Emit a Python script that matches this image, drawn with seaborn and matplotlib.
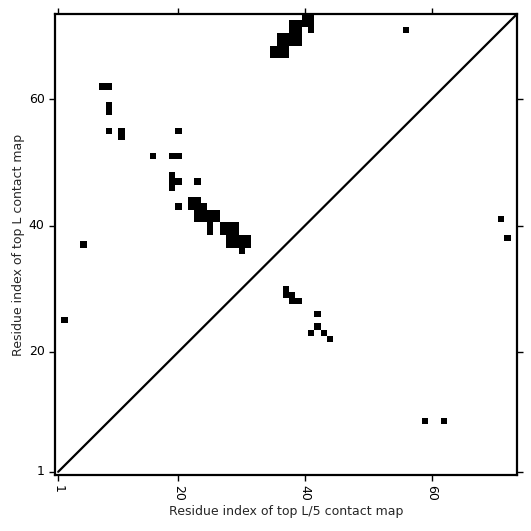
import numpy as np
import matplotlib
matplotlib.use("Agg")
import matplotlib.pyplot as plt
from matplotlib.colors import ListedColormap
import seaborn as sns

n_residues = 73
tick_residues = [1, 20, 40, 60]
tick_labels = ["1", "20", "40", "60"]

# contacts above the diagonal (top L contact map)
upper_x = [8, 9, 9, 9, 9, 11, 11, 20, 16, 19, 20, 19, 19, 19, 20, 23, 20, 5, 2,
           22, 23, 22, 23, 24,
           23, 24, 25, 26, 23, 24, 25, 26,
           25, 27, 28, 29, 25, 27, 28, 29,
           28, 29, 30, 31, 28, 29, 30, 31,
           30,
           40, 41, 38, 39, 40, 41, 38, 39, 41,
           36, 37, 38, 39, 36, 37, 38, 39,
           35, 36, 37, 35, 36, 37,
           56]
upper_y = [62, 62, 58, 59, 55, 54, 55, 55, 51, 51, 51, 46, 47, 48, 47, 47, 43, 37, 25,
           44, 44, 43, 43, 43,
           42, 42, 42, 42, 41, 41, 41, 41,
           40, 40, 40, 40, 39, 39, 39, 39,
           38, 38, 38, 38, 37, 37, 37, 37,
           36,
           73, 73, 72, 72, 72, 72, 71, 71, 71,
           70, 70, 70, 70, 69, 69, 69, 69,
           68, 68, 68, 67, 67, 67,
           71]

# contacts below the diagonal (top L/5 contact map)
lower_x = [37, 37, 38, 38, 39, 42, 42, 41, 43, 44, 71, 72, 59, 62]
lower_y = [30, 29, 29, 28, 28, 26, 24, 23, 23, 22, 41, 38, 9, 9]

contact = np.zeros((n_residues, n_residues))
for x, y in zip(upper_x + lower_x, upper_y + lower_y):
    contact[y - 1, x - 1] = 1

sns.set_style("ticks")
plt.rcParams["font.family"] = ["DejaVu Sans"]

fig = plt.figure(figsize=(5.31, 5.31), dpi=100)
ax = fig.add_axes([0.1036, 0.1055, 0.8700, 0.8681])

sns.heatmap(contact, cmap=ListedColormap(["white", "black"]), vmin=0, vmax=1,
            cbar=False, ax=ax, linewidths=0, rasterized=False)

ax.set_xlim(0, n_residues)
ax.set_ylim(0, n_residues)
ax.plot([0.5, n_residues], [0.5, n_residues], color="black", lw=1.6)

pos = [r - 0.5 for r in tick_residues]
ax.set_xticks(pos)
ax.set_xticklabels(tick_labels, rotation=270, fontsize=9)
ax.set_yticks(pos)
ax.set_yticklabels(tick_labels, rotation=0, fontsize=9)

for s in ax.spines.values():
    s.set_visible(True)
    s.set_linewidth(1.6)
    s.set_color("black")

ax.tick_params(direction="out", length=4, width=1, top=True, right=True,
               labeltop=False, labelright=False, colors="black")

ax.set_xlabel("Residue index of top L/5 contact map", fontsize=9, labelpad=3)
ax.set_ylabel("Residue index of top L contact map", fontsize=9, labelpad=3)

fig.savefig("out.png", dpi=100)
